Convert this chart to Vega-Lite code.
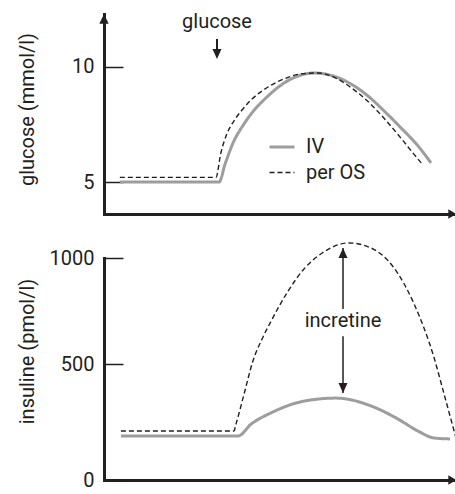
{
  "$schema": "https://vega.github.io/schema/vega-lite/v6.json",
  "padding": {"left": 16, "top": 11, "right": 0, "bottom": 5},
  "spacing": 44,
  "bounds": "flush",
  "background": "white",
  "config": {
    "view": {"stroke": null},
    "font": "Roboto",
    "axis": {
      "labelFont": "Roboto", "titleFont": "Roboto",
      "labelFontSize": 20, "titleFontSize": 20, "titleFontWeight": "normal",
      "labelColor": "#231f20", "titleColor": "#231f20",
      "domainColor": "#231f20", "domainWidth": 3, "domainCap": "square",
      "tickColor": "#231f20", "tickWidth": 1.5, "tickSize": -19,
      "labelPadding": 29, "grid": false
    },
    "legend": {
      "title": null, "orient": "none", "legendX": 164, "legendY": 119,
      "symbolType": "stroke", "symbolSize": 625, "labelFont": "Roboto",
      "labelFontSize": 20, "labelColor": "#231f20", "labelOffset": 10,
      "rowPadding": 2, "padding": 0
    }
  },
  "resolve": {"legend": {"color": "independent", "strokeDash": "independent", "strokeWidth": "independent"}},
  "vconcat": [
    {
      "width": 352,
      "height": 200,
      "layer": [
        {
          "data": {"values": [
            {"route": "IV", "t": 4.5, "value": 5.0},
            {"route": "IV", "t": 32.7, "value": 5.0},
            {"route": "IV", "t": 34.4, "value": 5.78},
            {"route": "IV", "t": 36.9, "value": 6.78},
            {"route": "IV", "t": 39.2, "value": 7.39},
            {"route": "IV", "t": 41.8, "value": 7.96},
            {"route": "IV", "t": 46.6, "value": 8.74},
            {"route": "IV", "t": 51.1, "value": 9.3},
            {"route": "IV", "t": 56.0, "value": 9.65},
            {"route": "IV", "t": 59.7, "value": 9.74},
            {"route": "IV", "t": 65.3, "value": 9.6},
            {"route": "IV", "t": 70.2, "value": 9.26},
            {"route": "IV", "t": 75.0, "value": 8.74},
            {"route": "IV", "t": 79.5, "value": 8.1},
            {"route": "IV", "t": 84.4, "value": 7.35},
            {"route": "IV", "t": 89.2, "value": 6.57},
            {"route": "IV", "t": 92.9, "value": 5.83},
            {"route": "per OS", "t": 4.5, "value": 5.2},
            {"route": "per OS", "t": 31.8, "value": 5.2},
            {"route": "per OS", "t": 33.2, "value": 6.26},
            {"route": "per OS", "t": 34.9, "value": 7.09},
            {"route": "per OS", "t": 36.9, "value": 7.65},
            {"route": "per OS", "t": 39.2, "value": 8.13},
            {"route": "per OS", "t": 41.8, "value": 8.57},
            {"route": "per OS", "t": 46.6, "value": 9.13},
            {"route": "per OS", "t": 51.1, "value": 9.48},
            {"route": "per OS", "t": 56.0, "value": 9.7},
            {"route": "per OS", "t": 60.8, "value": 9.74},
            {"route": "per OS", "t": 65.3, "value": 9.56},
            {"route": "per OS", "t": 70.2, "value": 9.1},
            {"route": "per OS", "t": 75.0, "value": 8.5},
            {"route": "per OS", "t": 79.5, "value": 7.78},
            {"route": "per OS", "t": 84.4, "value": 6.9},
            {"route": "per OS", "t": 88.1, "value": 6.2},
            {"route": "per OS", "t": 90.6, "value": 5.74}
          ]},
          "mark": {"type": "line", "interpolate": "monotone"},
          "encoding": {
            "x": {"field": "t", "type": "quantitative", "scale": {"domain": [0, 100], "nice": false, "zero": false},
                  "axis": {"ticks": false, "labels": false, "title": null}},
            "y": {"field": "value", "type": "quantitative", "scale": {"domain": [3.609, 12.304], "nice": false, "zero": false},
                  "axis": {"values": [5, 10], "format": "d", "title": "glucose (mmol/l)", "titleX": -77, "titleY": 95, "titleBaseline": "middle", "titleAngle": -90}},
            "color": {"field": "route", "type": "nominal", "scale": {"domain": ["IV", "per OS"], "range": ["#9d9d9d", "#231f20"]}},
            "strokeDash": {"field": "route", "type": "nominal", "scale": {"domain": ["IV", "per OS"], "range": [[1, 0], [5, 3]]}},
            "strokeWidth": {"field": "route", "type": "nominal", "scale": {"domain": ["IV", "per OS"], "range": [3, 1.4]}}
          }
        },
        {
          "data": {"values": [{"t": 32.1, "value": 11.22, "value2": 10.6}]},
          "mark": {"type": "rule", "color": "#231f20", "strokeWidth": 2},
          "encoding": {
            "x": {"field": "t", "type": "quantitative"},
            "y": {"field": "value", "type": "quantitative"},
            "y2": {"field": "value2"}
          }
        },
        {
          "data": {"values": [{"t": 32.1, "value": 10.35}]},
          "mark": {"type": "point", "shape": "M0,0L1,-2.2L-1,-2.2Z", "size": 81, "filled": true, "color": "#231f20", "opacity": 1},
          "encoding": {
            "x": {"field": "t", "type": "quantitative"},
            "y": {"field": "value", "type": "quantitative"}
          }
        },
        {
          "data": {"values": [{"t": 0, "value": 12.304}]},
          "mark": {"type": "point", "shape": "M0,0L1,2.1L-1,2.1Z", "size": 88, "filled": true, "color": "#231f20", "opacity": 1},
          "encoding": {
            "x": {"field": "t", "type": "quantitative"},
            "y": {"field": "value", "type": "quantitative"}
          }
        },
        {
          "data": {"values": [{"t": 100, "value": 3.609}]},
          "mark": {"type": "point", "shape": "M0,0L-1.6,-1L-1.6,1Z", "size": 92, "filled": true, "color": "#231f20", "opacity": 1},
          "encoding": {
            "x": {"field": "t", "type": "quantitative"},
            "y": {"field": "value", "type": "quantitative"}
          }
        },
        {
          "data": {"values": [{"t": 32.1, "value": 11.7, "label": "glucose"}]},
          "mark": {"type": "text", "font": "Roboto", "fontSize": 20, "color": "#231f20", "align": "center", "baseline": "alphabetic"},
          "encoding": {
            "x": {"field": "t", "type": "quantitative"},
            "y": {"field": "value", "type": "quantitative"},
            "text": {"field": "label"}
          }
        }
      ]
    },
    {
      "width": 352,
      "height": 222,
      "layer": [
        {
          "data": {"values": [
            {"route": "IV", "t": 4.8, "value": 190},
            {"route": "IV", "t": 38.1, "value": 190},
            {"route": "IV", "t": 41.8, "value": 241},
            {"route": "IV", "t": 47.4, "value": 289},
            {"route": "IV", "t": 56.8, "value": 340},
            {"route": "IV", "t": 65.9, "value": 353},
            {"route": "IV", "t": 75.9, "value": 319},
            {"route": "IV", "t": 83.5, "value": 263},
            {"route": "IV", "t": 89.2, "value": 211},
            {"route": "IV", "t": 93.8, "value": 181},
            {"route": "IV", "t": 98.3, "value": 177},
            {"route": "per OS", "t": 4.8, "value": 211},
            {"route": "per OS", "t": 36.9, "value": 211},
            {"route": "per OS", "t": 37.5, "value": 241},
            {"route": "per OS", "t": 39.8, "value": 371},
            {"route": "per OS", "t": 42.3, "value": 514},
            {"route": "per OS", "t": 44.9, "value": 618},
            {"route": "per OS", "t": 47.4, "value": 700},
            {"route": "per OS", "t": 52.3, "value": 844},
            {"route": "per OS", "t": 56.8, "value": 948},
            {"route": "per OS", "t": 61.6, "value": 1019},
            {"route": "per OS", "t": 69.6, "value": 1071},
            {"route": "per OS", "t": 75.9, "value": 1047},
            {"route": "per OS", "t": 82.4, "value": 953},
            {"route": "per OS", "t": 88.1, "value": 783},
            {"route": "per OS", "t": 93.8, "value": 528},
            {"route": "per OS", "t": 96.6, "value": 371},
            {"route": "per OS", "t": 100, "value": 181}
          ]},
          "mark": {"type": "line", "interpolate": "monotone"},
          "encoding": {
            "x": {"field": "t", "type": "quantitative", "scale": {"domain": [0, 100], "nice": false, "zero": false},
                  "axis": {"ticks": false, "labels": false, "title": null}},
            "y": {"field": "value", "type": "quantitative", "scale": {"domain": [0, 500, 1000], "range": [222, 106, 0], "nice": false},
                  "axis": {"values": [0, 500, 1000], "format": "d", "title": "insuline (pmol/l)", "titleX": -77, "titleY": 93, "titleBaseline": "middle", "titleAngle": -90}},
            "color": {"field": "route", "type": "nominal", "scale": {"domain": ["IV", "per OS"], "range": ["#9d9d9d", "#231f20"]}, "legend": null},
            "strokeDash": {"field": "route", "type": "nominal", "scale": {"domain": ["IV", "per OS"], "range": [[1, 0], [5, 3]]}, "legend": null},
            "strokeWidth": {"field": "route", "type": "nominal", "scale": {"domain": ["IV", "per OS"], "range": [3, 1.4]}, "legend": null}
          }
        },
        {
          "data": {"values": [
            {"t": 67.9, "value": 1047, "value2": 759},
            {"t": 67.9, "value": 631, "value2": 375}
          ]},
          "mark": {"type": "rule", "color": "#231f20", "strokeWidth": 1.5},
          "encoding": {
            "x": {"field": "t", "type": "quantitative"},
            "y": {"field": "value", "type": "quantitative"},
            "y2": {"field": "value2"}
          }
        },
        {
          "data": {"values": [{"t": 67.9, "value": 1047}]},
          "mark": {"type": "point", "shape": "M0,0L1,2.2L-1,2.2Z", "size": 81, "filled": true, "color": "#231f20", "opacity": 1},
          "encoding": {
            "x": {"field": "t", "type": "quantitative"},
            "y": {"field": "value", "type": "quantitative"}
          }
        },
        {
          "data": {"values": [{"t": 67.9, "value": 375}]},
          "mark": {"type": "point", "shape": "M0,0L1,-2.2L-1,-2.2Z", "size": 81, "filled": true, "color": "#231f20", "opacity": 1},
          "encoding": {
            "x": {"field": "t", "type": "quantitative"},
            "y": {"field": "value", "type": "quantitative"}
          }
        },
        {
          "data": {"values": [{"t": 100, "value": 0}]},
          "mark": {"type": "point", "shape": "M0,0L-1.6,-1L-1.6,1Z", "size": 92, "filled": true, "color": "#231f20", "opacity": 1},
          "encoding": {
            "x": {"field": "t", "type": "quantitative"},
            "y": {"field": "value", "type": "quantitative"}
          }
        },
        {
          "data": {"values": [{"t": 67.9, "value": 703, "label": "incretine"}]},
          "mark": {"type": "text", "font": "Roboto", "fontSize": 20, "color": "#231f20", "align": "center", "baseline": "middle"},
          "encoding": {
            "x": {"field": "t", "type": "quantitative"},
            "y": {"field": "value", "type": "quantitative"},
            "text": {"field": "label"}
          }
        }
      ]
    }
  ]
}
